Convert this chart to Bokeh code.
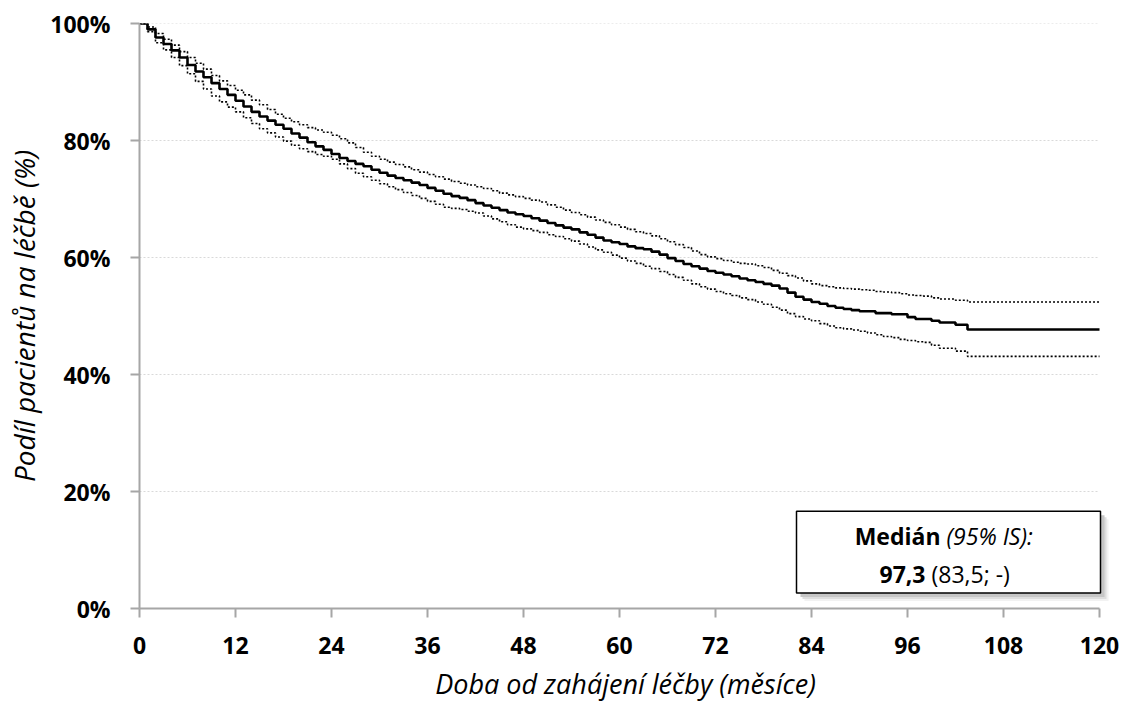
from bokeh.plotting import figure
from bokeh.embed import file_html
from bokeh.resources import INLINE
from bokeh.models import FixedTicker, Label, Range1d

# ---- data (months, % of patients on treatment) ----
months = [0, 1, 2, 3, 4, 5, 6, 7, 8, 9, 10, 11, 12, 13, 14, 15, 16, 17, 18, 19,
          20, 21, 22, 23, 24, 25, 26, 27, 28, 29, 30, 31, 32, 33, 34, 35, 36, 37, 38, 39,
          40, 41, 42, 43, 44, 45, 46, 47, 48, 49, 50, 51, 52, 53, 54, 55, 56, 57, 58, 59,
          60, 61, 62, 63, 64, 65, 66, 67, 68, 69, 70, 71, 72, 73, 74, 75, 76, 77, 78, 79,
          80, 81, 82, 83, 84, 85, 86, 87, 88, 89, 90, 91, 92, 93, 94, 95, 96, 97, 98, 99,
          100, 101, 102, 103.5, 120]
survival = [100, 99.0, 97.6, 96.5, 95.4, 94.2, 92.9, 91.8, 90.8, 89.8, 88.8, 87.8, 86.8, 85.8, 84.9, 84.1, 83.4, 82.7, 82.0, 81.2,
            80.5, 79.7, 79.0, 78.4, 77.7, 77.0, 76.5, 76.0, 75.6, 75.0, 74.5, 74.0, 73.6, 73.2, 72.8, 72.4, 71.9, 71.4, 70.9, 70.5,
            70.2, 69.8, 69.3, 68.9, 68.5, 68.1, 67.7, 67.4, 67.1, 66.7, 66.3, 65.9, 65.5, 65.1, 64.8, 64.3, 63.9, 63.4, 62.9, 62.6,
            62.3, 61.9, 61.6, 61.4, 61.0, 60.5, 59.9, 59.4, 58.9, 58.5, 58.1, 57.7, 57.4, 57.1, 56.8, 56.4, 56.1, 55.8, 55.5, 55.2,
            54.7, 54.0, 53.3, 52.8, 52.4, 52.1, 51.7, 51.4, 51.2, 51.0, 50.8, 50.8, 50.5, 50.5, 50.3, 50.3, 49.8, 49.5, 49.5, 49.2,
            48.9, 48.9, 48.5, 47.7, 47.7]
ci_upper = [100, 99.4, 98.3, 97.3, 96.3, 95.2, 94.2, 93.2, 92.2, 91.1, 90.2, 89.4, 88.6, 87.8, 86.9, 86.1, 85.3, 84.5, 83.8, 83.2,
            82.7, 82.2, 81.8, 81.4, 80.9, 80.3, 79.6, 78.8, 78.0, 77.3, 76.8, 76.3, 75.9, 75.5, 75.0, 74.6, 74.2, 73.8, 73.4, 73.0,
            72.7, 72.4, 72.1, 71.8, 71.4, 71.0, 70.7, 70.4, 70.1, 69.8, 69.5, 69.0, 68.6, 68.1, 67.7, 67.3, 66.9, 66.4, 66.0, 65.6,
            65.2, 64.8, 64.4, 64.1, 63.7, 63.2, 62.7, 62.2, 61.7, 61.1, 60.5, 60.1, 59.8, 59.5, 59.2, 59.0, 58.9, 58.6, 58.3, 57.8,
            57.3, 56.9, 56.5, 56.0, 55.5, 55.2, 55.0, 54.8, 54.7, 54.6, 54.5, 54.4, 54.2, 54.1, 54.0, 53.8, 53.6, 53.5, 53.4, 53.1,
            52.9, 52.9, 52.7, 52.4, 52.4]
ci_lower = [100, 98.6, 96.7, 95.5, 94.2, 92.8, 91.4, 90.1, 88.8, 87.6, 86.6, 85.7, 84.9, 83.9, 82.9, 82.0, 81.3, 80.6, 79.9, 79.2,
            78.6, 78.1, 77.6, 77.3, 76.8, 76.0, 75.2, 74.4, 73.8, 73.2, 72.6, 72.1, 71.6, 71.1, 70.6, 70.1, 69.6, 69.1, 68.6, 68.4,
            68.2, 67.9, 67.6, 67.1, 66.6, 66.1, 65.6, 65.2, 64.9, 64.6, 64.3, 63.9, 63.6, 63.2, 62.8, 62.3, 61.8, 61.3, 60.9, 60.4,
            59.9, 59.4, 59.0, 58.5, 58.1, 57.6, 57.1, 56.6, 56.1, 55.5, 55.0, 54.6, 54.2, 53.8, 53.5, 53.1, 52.8, 52.4, 52.0, 51.5,
            51.0, 50.4, 49.9, 49.5, 49.2, 48.7, 48.3, 48.0, 47.8, 47.6, 47.4, 47.1, 46.8, 46.5, 46.3, 46.0, 45.8, 45.6, 45.5, 45.0,
            44.5, 44.5, 44.0, 43.1, 43.1]

x_ticks = [0, 12, 24, 36, 48, 60, 72, 84, 96, 108, 120]
y_ticks = [0, 20, 40, 60, 80, 100]
y_tick_labels = ["0%", "20%", "40%", "60%", "80%", "100%"]

x_title = "Doba od zahájení léčby (měsíce)"
y_title = "Podíl pacientů na léčbě (%)"
median_head = ("Medián", "(95% IS):")
median_vals = ("97,3", "(83,5; -)")

FONT = "Open Sans"
X_MAX = x_ticks[-1]

p = figure(width=1120, height=704, output_backend="svg", toolbar_location=None,
           x_range=Range1d(0, X_MAX + 1.5), y_range=Range1d(0, 100),
           min_border_left=139, min_border_right=9, min_border_top=23, min_border_bottom=95)
p.outline_line_color = None
p.background_fill_color = "white"
p.border_fill_color = "white"

# grid (drawn as segments so they stop at the axis end)
p.xgrid.grid_line_color = None
p.ygrid.grid_line_color = None
grid_y = [t for t in y_ticks if t > 0]
p.segment(x0=[0] * len(grid_y), x1=[X_MAX] * len(grid_y), y0=grid_y, y1=grid_y,
          line_color="#d9d9d9", line_dash="2 2", line_width=1)

# axes
for ax in (p.xaxis[0], p.yaxis[0]):
    ax.axis_line_color = "#a6a6a6"
    ax.axis_line_width = 2
    ax.major_tick_line_color = "#a6a6a6"
    ax.major_tick_line_width = 2
    ax.major_tick_in = 0
    ax.major_tick_out = 9
    ax.minor_tick_line_color = None
    ax.major_label_text_font = FONT
    ax.major_label_text_font_style = "bold"
    ax.major_label_text_font_size = "23px"
    ax.major_label_text_color = "black"
    ax.axis_label_text_font = FONT
    ax.axis_label_text_font_style = "italic"
    ax.axis_label_text_color = "black"

p.xaxis.bounds = (0, X_MAX)
p.xaxis.axis_label_text_font_size = "27px"
p.yaxis.axis_label_text_font_size = "28px"
p.xaxis.ticker = FixedTicker(ticks=x_ticks)
p.yaxis.ticker = FixedTicker(ticks=y_ticks)
p.yaxis.major_label_overrides = {t: l for t, l in zip(y_ticks, y_tick_labels)}
p.xaxis.major_label_standoff = 19
p.yaxis.major_label_standoff = 20
p.xaxis.axis_label = x_title
p.yaxis.axis_label = y_title
p.xaxis.axis_label_standoff = 8
p.yaxis.axis_label_standoff = 4

# curves
p.step(months, ci_upper, mode="after", line_color="black", line_width=1.6, line_dash="2 2")
p.step(months, ci_lower, mode="after", line_color="black", line_width=1.6, line_dash="2 2")
p.step(months, survival, mode="after", line_color="black", line_width=2.6)

# median box (annotation)
PX_X, PX_Y = 8.0, 5.865
bx0, bx1 = (796 - 139) / PX_X, (1100 - 139) / PX_X
by0, by1 = (609.5 - 594) / PX_Y, (609.5 - 512) / PX_Y
for off, col in ((8, "#f2f2f2"), (6, "#dedede"), (4, "#c6c6c6")):
    p.quad(left=[bx0 + off / PX_X], right=[bx1 + off / PX_X],
           bottom=[by0 - off / PX_Y], top=[by1 - off / PX_Y],
           fill_color=col, line_color=None)
p.quad(left=[bx0], right=[bx1], bottom=[by0], top=[by1],
       fill_color="white", line_color="black", line_width=1.5)

xj1 = (943 - 139) / PX_X
xj2 = (928 - 139) / PX_X
yl1 = (609.5 - 537) / PX_Y
yl2 = (609.5 - 575) / PX_Y
common = dict(text_font=FONT, text_font_size="23px", text_color="black", text_baseline="middle")
p.add_layout(Label(x=xj1, y=yl1, x_offset=-3, text=median_head[0], text_align="right", text_font_style="bold", **common))
p.add_layout(Label(x=xj1, y=yl1, x_offset=3, text=median_head[1], text_align="left", text_font_style="italic", **common))
p.add_layout(Label(x=xj2, y=yl2, x_offset=-3, text=median_vals[0], text_align="right", text_font_style="bold", **common))
p.add_layout(Label(x=xj2, y=yl2, x_offset=3, text=median_vals[1], text_align="left", text_font_style="normal", **common))

open("out.html", "w").write(file_html(p, INLINE))
